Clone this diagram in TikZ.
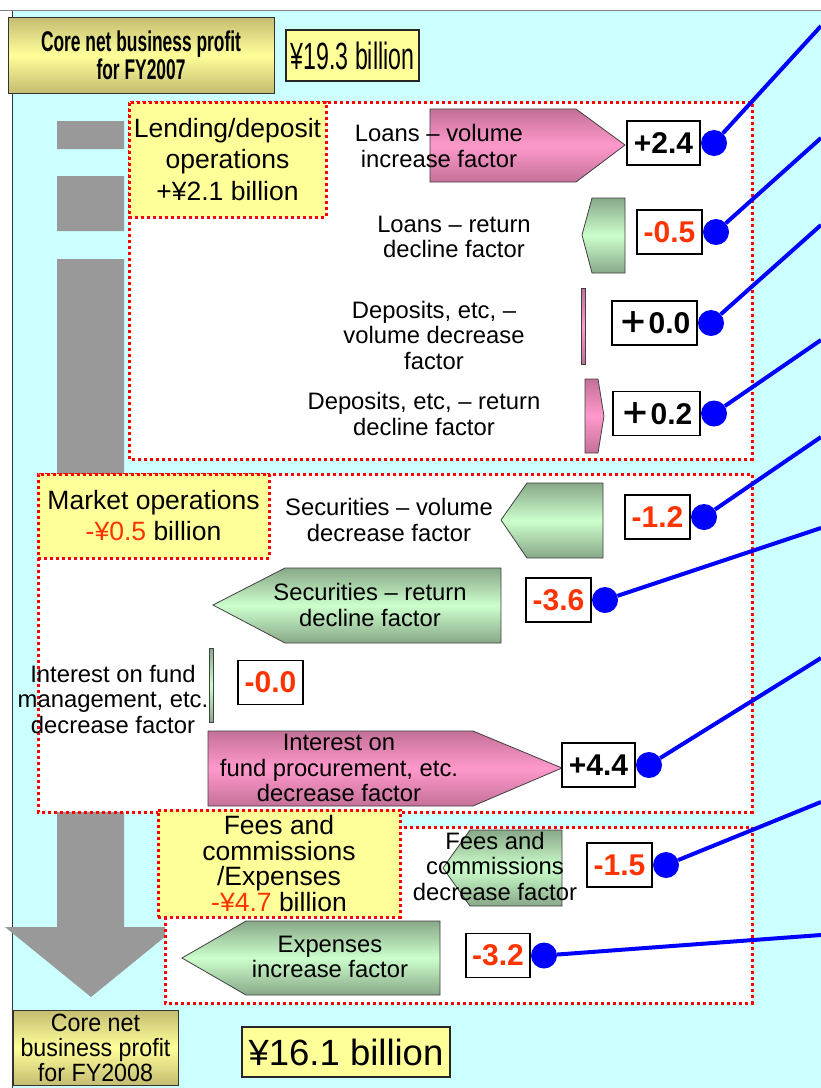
\documentclass[tikz,border=0pt]{standalone}
\usepackage{fontspec}
\setmainfont{Liberation Sans}
\newfontfamily\narrowfont[FakeStretch=0.61]{Liberation Sans}
\newfontfamily\semifont[FakeStretch=0.93]{Liberation Sans}
\newfontfamily\cjk{Noto Sans CJK JP}
\usetikzlibrary{positioning}
\definecolor{bgcyan}{HTML}{CCFFFF}
\definecolor{paleyellow}{HTML}{FFFF99}
\definecolor{titleolive}{HTML}{C4BC72}
\definecolor{minusred}{HTML}{FF3300}
\definecolor{pinkmid}{HTML}{FF99CC}
\definecolor{pinkedge}{HTML}{C47098}
\definecolor{greenmid}{HTML}{CCFFCC}
\definecolor{greenedge}{HTML}{88A888}
\definecolor{bargray}{HTML}{999999}
\newcommand\redtxt[1]{{\color{minusred}#1}}
\newcommand\wideplus{{\cjk\bfseries ＋}}
\tikzset{
  grpbox/.style={draw=red,fill=white,line width=3pt,dash pattern=on 3pt off 3pt},
  grplabel/.style={grpbox,fill=paleyellow,align=center,inner sep=0pt},
  titlebox/.style={draw=black!80,line width=1pt,top color=titleolive,bottom color=titleolive,middle color=paleyellow,align=center,inner sep=0pt},
  sumbox/.style={draw=black!85,line width=1.5pt,fill=paleyellow,inner sep=0pt},
  factor/.style={font=\fontsize{23.8}{25.5}\selectfont,align=center,inner sep=0pt},
  valbox/.style={draw,line width=1.6pt,fill=white,minimum height=44pt,inner sep=0pt,font=\bfseries\fontsize{30}{30}\selectfont},
  pinkarrow/.style={draw=black!75,line width=0.8pt,top color=pinkedge,bottom color=pinkedge,middle color=pinkmid},
  greenarrow/.style={draw=black!75,line width=0.8pt,top color=greenedge,bottom color=greenedge,middle color=greenmid},
  bluedot/.style={circle,fill=blue,minimum size=26pt,inner sep=0pt},
  bluelink/.style={draw=blue,line width=4pt}
}
\begin{document}
\begin{tikzpicture}[x=1pt,y=-1pt]
\useasboundingbox (0,0) rectangle (821,1088);
\fill[white] (0,0) rectangle (821,1088);
\fill[bgcyan] (12,11) rectangle (821,1088);
\draw[gray,line width=1.5pt] (0,10.5) -- (821,10.5);
\draw[black!80,line width=1.5pt] (12.5,11) -- (12.5,1088);
% waterfall bars and the big arrow
\fill[bargray] (57,121) rectangle (124,149) (57,176) rectangle (124,231);
\fill[bargray] (57,259) -- (124,259) -- (124,927) -- (177,927) -- (91,997) -- (5,927) -- (57,927) -- cycle;
% the three groups
\draw[grpbox] (129,102) rectangle (752,459);
\draw[grpbox] (38,474) rectangle (752,812);
\draw[grpbox] (165,827) rectangle (752,1003);
\node[grplabel,minimum width=197,minimum height=115,font=\fontsize{26.5}{31.5}\selectfont] (lend) at (227.5,159.5) {Lending/deposit\\operations\\+¥2.1 billion};
\node[grplabel,minimum width=231,minimum height=84,font=\fontsize{26.5}{31}\selectfont] (market) at (153.5,516) {Market operations\\\redtxt{-¥0.5} billion};
\node[grplabel,minimum width=242,minimum height=107,font=\fontsize{26.5}{25.5}\selectfont] (fees) at (279,863.5) {Fees and\\commissions\\/Expenses\\\redtxt{-¥4.7} billion};
% start and end
\node[titlebox,minimum width=266,minimum height=76,font=\narrowfont\bfseries\fontsize{28.5}{28}\selectfont] (fy07) at (141,55) {Core net business profit\\for FY2007};
\node[sumbox,minimum width=133,minimum height=51,font=\narrowfont\fontsize{38}{38}\selectfont] (sum07) at (352.5,55.5) {¥19.3 billion};
\node[titlebox,minimum width=165,minimum height=75,font=\semifont\fontsize{25}{25}\selectfont] (fy08) at (95.5,1047.5) {Core net\\business profit\\for FY2008};
\node[sumbox,minimum width=208,minimum height=50,font=\fontsize{36.5}{36}\selectfont] (sum08) at (346,1052) {¥16.1 billion};
% factor shapes
\draw[pinkarrow] (430,109) -- (576,109) -- (625,145) -- (576,182) -- (430,182) -- cycle;
\draw[greenarrow] (625,198) -- (592,198) -- (582,235) -- (592,273) -- (625,273) -- cycle;
\draw[pinkarrow] (581,288) rectangle (585,364);
\draw[pinkarrow] (585,379) -- (598,379) -- (604,416) -- (598,453) -- (585,453) -- cycle;
\draw[greenarrow] (603,483) -- (527,483) -- (501,520) -- (527,558) -- (603,558) -- cycle;
\draw[greenarrow] (501,568) -- (285,568) -- (213,605) -- (285,643) -- (501,643) -- cycle;
\draw[greenarrow] (209,648) rectangle (213,722);
\draw[pinkarrow] (208,731) -- (473,731) -- (562,768) -- (473,806) -- (208,806) -- cycle;
\draw[greenarrow] (562,830) -- (470,830) -- (443,868) -- (470,906) -- (562,906) -- cycle;
\draw[greenarrow] (440,921) -- (246,921) -- (182,958) -- (246,995) -- (440,995) -- cycle;
% factor texts
\path (439,146) node[factor] (tLoanVol) {Loans – volume\\increase factor}
  (454,237) node[factor] (tLoanRet) {Loans – return\\decline factor}
  (434,335) node[factor] (tDepVol) {Deposits, etc, –\\volume decrease\\factor}
  (424,414) node[factor] (tDepRet) {Deposits, etc, – return\\decline factor}
  (389,520) node[factor] (tSecVol) {Securities – volume\\decrease factor}
  (370,605) node[factor] (tSecRet) {Securities – return\\decline factor}
  (113,699) node[factor] (tFundMan) {Interest on fund\\management, etc.\\decrease factor}
  (339,768) node[factor] (tFundPro) {Interest on\\fund procurement, etc.\\decrease factor}
  (495,866) node[factor] (tFees) {Fees and\\commissions\\decrease factor}
  (330,957) node[factor] (tExp) {Expenses\\increase factor};
% values
\node[valbox,minimum width=73] (v24) at (663.5,143) {+2.4};
\node[valbox,minimum width=65,text=minusred] (v05) at (669.5,232) {-0.5};
\node[valbox,minimum width=85] (v00) at (654.5,323) {\wideplus0.0};
\node[valbox,minimum width=87] (v02) at (656.5,413.5) {\wideplus0.2};
\node[valbox,minimum width=65,text=minusred] (v12) at (657.5,517) {-1.2};
\node[valbox,minimum width=65,text=minusred] (v36) at (558.5,600) {-3.6};
\node[valbox,minimum width=65,text=minusred] (vm00) at (270.5,682.5) {-0.0};
\node[valbox,minimum width=73] (v44) at (598.5,765) {+4.4};
\node[valbox,minimum width=65,text=minusred] (v15) at (619.5,865) {-1.5};
\node[valbox,minimum width=64,text=minusred] (v32) at (498,955.5) {-3.2};
% dots and links
\foreach \v/\ex/\ey in {v24/821/26,v05/821/138,v00/821/225,v02/821/340,v12/821/437,v36/821/528,v44/821/658,v15/821/802,v32/821/935}{
  \node[bluedot,right=0pt of \v] (d\v) {};
  \coordinate (e\v) at (\ex,\ey);
  \draw[bluelink] (d\v) -- (e\v);
}
\end{tikzpicture}
\end{document}
